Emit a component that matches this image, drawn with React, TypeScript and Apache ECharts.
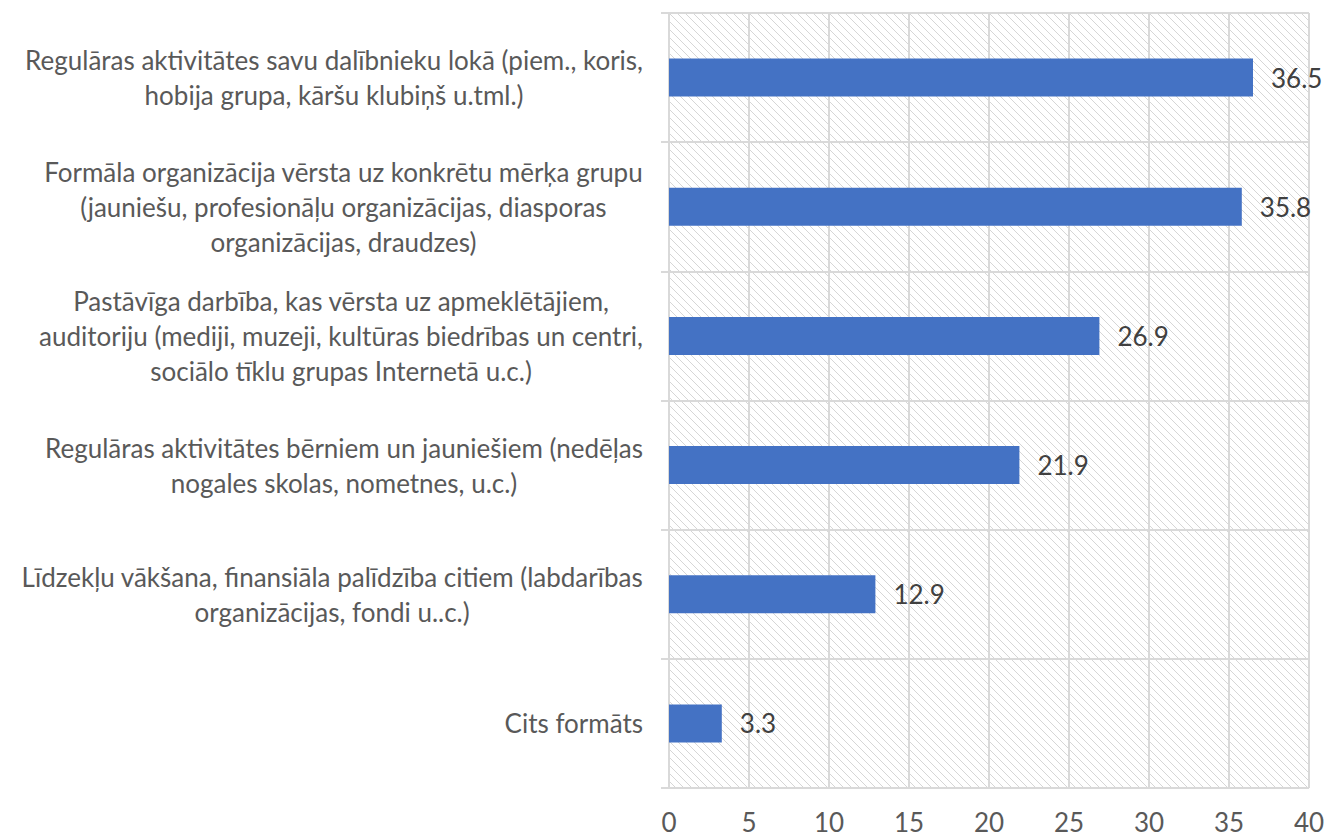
import React, { useEffect, useRef } from "react";
import * as echarts from "echarts";

const categories = [
  "Regulāras aktivitātes savu dalībnieku lokā (piem., koris,\nhobija grupa, kāršu klubiņš u.tml.)",
  "Formāla organizācija vērsta uz konkrētu mērķa grupu\n(jauniešu, profesionāļu organizācijas, diasporas\norganizācijas, draudzes)",
  "Pastāvīga darbība, kas vērsta uz apmeklētājiem,\nauditoriju (mediji, muzeji, kultūras biedrības un centri,\nsociālo tīklu grupas Internetā u.c.)",
  "Regulāras aktivitātes bērniem un jauniešiem (nedēļas\nnogales skolas, nometnes, u.c.)",
  "Līdzekļu vākšana, finansiāla palīdzība citiem (labdarības\norganizācijas, fondi u..c.)",
  "Cits formāts",
];
const values = [36.5, 35.8, 26.9, 21.9, 12.9, 3.3];
const xMin = 0;
const xMax = 40;
const xInterval = 5;

const FONT = "Lato";
const FS = 26;

function makeHatch(): string {
  const c = document.createElement("canvas");
  c.width = 8;
  c.height = 8;
  const ctx = c.getContext("2d")!;
  ctx.fillStyle = "#ffffff";
  ctx.fillRect(0, 0, 8, 8);
  ctx.strokeStyle = "#d6d6d6";
  ctx.lineWidth = 1;
  ctx.beginPath();
  ctx.moveTo(-1, -1);
  ctx.lineTo(9, 9);
  ctx.moveTo(-1, 7);
  ctx.lineTo(1, 9);
  ctx.moveTo(7, -1);
  ctx.lineTo(9, 1);
  ctx.stroke();
  return c.toDataURL();
}

export default function App() {
  const ref = useRef<HTMLDivElement>(null);
  useEffect(() => {
    if (!ref.current) return;
    const chart = echarts.init(ref.current, null, { renderer: "svg" });
    const hatch = makeHatch();
    chart.setOption({
      animation: false,
      grid: {
        left: 669,
        right: 20,
        top: 13,
        bottom: 49,
        show: true,
        borderWidth: 0,
        backgroundColor: { image: hatch, repeat: "repeat" },
      },
      xAxis: {
        type: "value",
        min: xMin,
        max: xMax,
        interval: xInterval,
        axisLine: { show: false },
        axisTick: { show: false },
        splitLine: { show: true, lineStyle: { color: "#d9d9d9", width: 2 } },
        axisLabel: {
          margin: 22,
          color: "#595959",
          fontFamily: FONT,
          fontSize: FS,
          lineHeight: 24,
        },
      },
      yAxis: {
        type: "category",
        data: categories,
        inverse: true,
        axisLine: { show: true, lineStyle: { color: "#d9d9d9", width: 2 } },
        axisTick: {
          show: true,
          length: 8,
          lineStyle: { color: "#d9d9d9", width: 2 },
        },
        splitLine: { show: true, lineStyle: { color: "#d9d9d9", width: 2 } },
        axisLabel: {
          margin: 26,
          color: "#595959",
          fontFamily: FONT,
          fontSize: FS,
          lineHeight: 35,
          align: "right",
          formatter: (v: string) =>
            v
              .split("\n")
              .map((l) => `{c|${l}}`)
              .join("\n"),
          rich: {
            c: {
              align: "center",
              color: "#595959",
              fontFamily: FONT,
              fontSize: FS,
              lineHeight: 35,
            },
          },
        },
      },
      series: [
        {
          type: "bar",
          data: values,
          barWidth: 38,
          itemStyle: { color: "#4472c4" },
          label: {
            show: true,
            position: "right",
            distance: 18,
            color: "#404040",
            fontFamily: FONT,
            fontSize: FS,
            formatter: (p: any) => p.value.toFixed(1),
          },
        },
      ],
    });
    return () => chart.dispose();
  }, []);
  return (
    <div
      ref={ref}
      style={{ position: "absolute", left: 0, top: 0, width: 1329, height: 837, background: "#fff" }}
    />
  );
}
